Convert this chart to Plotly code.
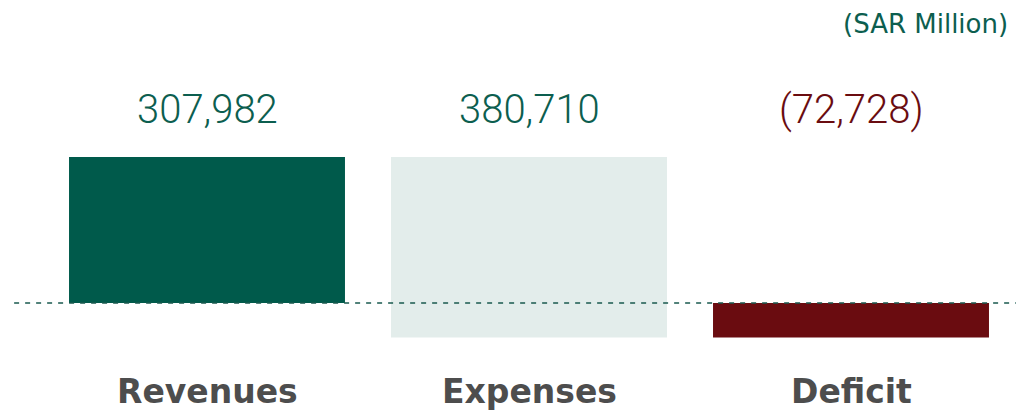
import plotly.graph_objects as go

categories = ["Revenues", "Expenses", "Deficit"]
values = [307982, -380710, -72728]
bases = [0, 307982, 0]
labels = ["307,982", "380,710", "(72,728)"]
bar_colors = ["#005a4b", "#e3edeb", "#6a0c10"]
label_colors = ["#0c5e4f", "#0c5e4f", "#6a0c10"]

fig = go.Figure()
fig.add_trace(go.Bar(
    x=categories, y=values, base=bases,
    marker=dict(color=bar_colors, line=dict(width=0)),
    width=0.857, hoverinfo="skip",
))

H = 416
for cat, lab, col in zip(categories, labels, label_colors):
    fig.add_annotation(x=cat, y=1 - 110 / H, xref="x", yref="paper", text=lab,
                       showarrow=False, xanchor="center", yanchor="middle",
                       font=dict(family="Roboto", size=40, color=col, weight=300))
    fig.add_annotation(x=cat, y=1 - 391 / H, xref="x", yref="paper", text=cat,
                       showarrow=False, xanchor="center", yanchor="middle",
                       font=dict(family="DejaVu Sans", size=33, color="#4d4d4d", weight="bold"))

fig.add_annotation(x=(1010 - 46) / 966, y=1 - 24 / H, xref="paper", yref="paper",
                   text="(SAR Million)", showarrow=False, xanchor="right", yanchor="middle",
                   font=dict(family="DejaVu Sans", size=26, color="#0c5e4f"))

fig.add_shape(type="line", xref="paper", yref="y", x0=-0.033, x1=1.004, y0=0, y1=0,
              line=dict(color="#1a5a4f", width=1.5, dash="5px,6px"), layer="above")

top_val = 303 * 307982 / 146
bot_val = -113 * 307982 / 146
fig.update_layout(
    width=1016, height=416,
    margin=dict(l=46, r=4, t=0, b=0),
    paper_bgcolor="white", plot_bgcolor="white",
    showlegend=False,
    xaxis=dict(visible=False, range=[-0.5, 2.5]),
    yaxis=dict(visible=False, range=[bot_val, top_val]),
)
fig.write_html("out.html",
               config={"displayModeBar": False, "staticPlot": True},
               post_script="document.body.style.margin='0';document.body.style.padding='0';document.body.style.overflow='hidden';")
